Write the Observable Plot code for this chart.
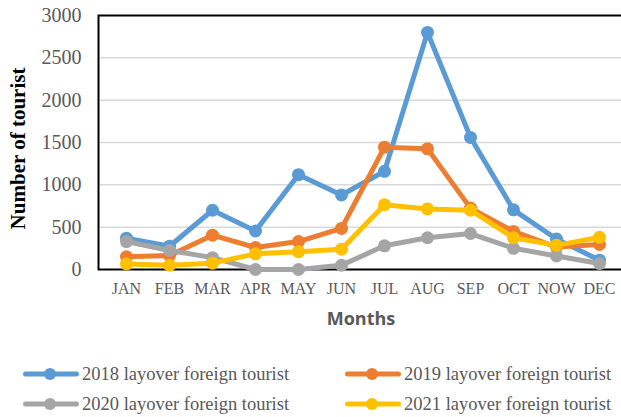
<!DOCTYPE html>
<html>
<head>
<meta charset="utf-8">
<script src="https://cdn.jsdelivr.net/npm/d3@7"></script>
<script src="https://cdn.jsdelivr.net/npm/@observablehq/plot@0.6"></script>
<style>
  html, body { margin: 0; padding: 0; background: #fff; }
  #wrap { position: relative; width: 621px; height: 417px; overflow: hidden; }
  #legend { position: absolute; left: 0; top: 340px; width: 621px; height: 77px; }
  .item { position: absolute; display: flex; align-items: center; height: 24px;
          font-family: "Liberation Serif", "Times New Roman", serif; font-size: 18.5px; color: #595959; white-space: nowrap; }
  .item svg { display: block; margin-right: 3px; }
</style>
</head>
<body>
<div id="wrap">
  <div id="chart"></div>
  <div id="legend"></div>
</div>
<script>
const months = ["JAN","FEB","MAR","APR","MAY","JUN","JUL","AUG","SEP","OCT","NOW","DEC"];
const seriesNames = [
  "2018 layover foreign tourist",
  "2019 layover foreign tourist",
  "2020 layover foreign tourist",
  "2021 layover foreign tourist"
];
const colors = ["#5B9BD5", "#ED7D31", "#A5A5A5", "#FFC000"];
const v2018 = [370, 275, 700, 455, 1120, 880, 1160, 2800, 1560, 705, 360, 110];
const v2019 = [150, 165, 405, 260, 330, 485, 1445, 1425, 725, 450, 265, 295];
const v2020 = [330, 225, 140, 0, 0, 50, 280, 375, 425, 250, 160, 70];
const v2021 = [65, 50, 75, 185, 210, 240, 765, 715, 700, 375, 285, 380];
const yTicks = [0, 500, 1000, 1500, 2000, 2500, 3000];
const gridTicks = [500, 1000, 1500, 2000, 2500];

const allValues = [v2018, v2019, v2020, v2021];
const data = [];
allValues.forEach((vals, si) => {
  vals.forEach((v, mi) => data.push({series: seriesNames[si], month: months[mi], value: v}));
});

const serif = "'Liberation Serif', 'Times New Roman', serif";
const seriesMarks = seriesNames.flatMap((name) => {
  const d = data.filter(r => r.series === name);
  return [
    Plot.line(d, {x: "month", y: "value", stroke: "series", strokeWidth: 5, strokeLinejoin: "round", strokeLinecap: "round"}),
    Plot.dot(d, {x: "month", y: "value", fill: "series", r: 6.5, stroke: null})
  ];
});

const chart = Plot.plot({
  width: 621,
  height: 340,
  marginLeft: 98,
  marginRight: -2,
  marginTop: 15,
  marginBottom: 71,
  style: {fontFamily: serif, background: "white"},
  x: {type: "point", domain: months, range: [121, 603], padding: 0},
  y: {domain: [0, 3000]},
  color: {domain: seriesNames, range: colors},
  marks: [
    Plot.gridY(gridTicks, {stroke: "#d9d9d9", strokeOpacity: 1, strokeWidth: 1.5}),
    Plot.frame({stroke: "black", strokeWidth: 2}),
    Plot.axisY(yTicks, {tickSize: 0, tickPadding: 17, fontSize: 20, fontFamily: serif, fill: "#595959", label: null, tickFormat: d => String(d)}),
    Plot.axisX({tickSize: 0, tickPadding: 13, fontSize: 16, fontFamily: serif, fill: "#595959", label: null}),
    ...seriesMarks,
    Plot.text(["Months"], {frameAnchor: "bottom", dy: 55, fontFamily: "'Open Sans', sans-serif", fontWeight: "bold", fontSize: 18, fill: "#595959"}),
    Plot.text(["Number of tourist"], {frameAnchor: "left", textAnchor: "middle", dx: -80, dy: 6, rotate: -90, fontFamily: serif, fontWeight: "bold", fontSize: 21, fill: "black"})
  ]
});
document.getElementById("chart").appendChild(chart);

// Legend
const legend = document.getElementById("legend");
const positions = [[23, 34], [345, 34], [23, 64], [345, 64]];
seriesNames.forEach((name, i) => {
  const item = document.createElement("div");
  item.className = "item";
  item.style.left = positions[i][0] + "px";
  item.style.top = positions[i][1] + "px";
  item.style.transform = "translateY(-50%)";
  item.innerHTML = `<svg width="56" height="14"><line x1="2.5" y1="7" x2="53.5" y2="7" stroke="${colors[i]}" stroke-width="5" stroke-linecap="round"/><circle cx="27" cy="7" r="6" fill="${colors[i]}"/></svg><span>${name}</span>`;
  legend.appendChild(item);
});
</script>
</body>
</html>
